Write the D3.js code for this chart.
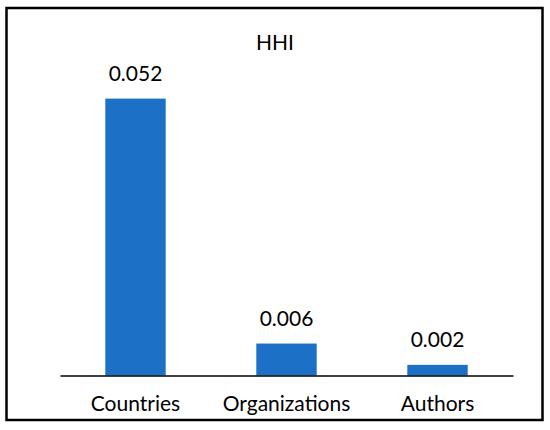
<!DOCTYPE html>
<html>
<head>
<meta charset="utf-8">
<script src="https://cdn.jsdelivr.net/npm/d3@7"></script>
<style>
  body { margin: 0; background: #fff; }
  svg text { font-family: Lato, "Open Sans", sans-serif; fill: #000; }
</style>
</head>
<body>
<script>
// Chart data
var categories = ["Countries", "Organizations", "Authors"];
var values = [0.052, 0.006, 0.002];
var valueLabels = ["0.052", "0.006", "0.002"];
var chartTitle = "HHI";

var width = 550, height = 430;
var margin = {top: 56, left: 60, right: 37, bottom: 54.5};

var svg = d3.select("body").append("svg")
    .attr("width", width)
    .attr("height", height);

// outer frame
svg.append("rect")
    .attr("x", 6.5).attr("y", 8)
    .attr("width", 536).attr("height", 412)
    .attr("fill", "#fff")
    .attr("stroke", "#000")
    .attr("stroke-width", 2.5);

var xScale = d3.scaleBand()
    .domain(categories)
    .range([margin.left, width - margin.right])
    .paddingInner(0.6)
    .paddingOuter(0.3);

var yScale = d3.scaleLinear()
    .domain([0, 0.06])
    .range([height - margin.bottom, margin.top]);

// bars
svg.selectAll("rect.bar")
    .data(values)
    .enter()
    .append("rect")
    .attr("class", "bar")
    .attr("x", function(d, i) { return xScale(categories[i]); })
    .attr("y", function(d) { return yScale(d); })
    .attr("width", xScale.bandwidth())
    .attr("height", function(d) { return yScale(0) - yScale(d); })
    .attr("fill", "#1c71c7");

// value labels
svg.selectAll("text.val")
    .data(values)
    .enter()
    .append("text")
    .attr("class", "val")
    .attr("x", function(d, i) { return xScale(categories[i]) + xScale.bandwidth() / 2; })
    .attr("y", function(d) { return yScale(d) - 17.5; })
    .attr("text-anchor", "middle")
    .style("font-size", "21px")
    .text(function(d, i) { return valueLabels[i]; });

// x axis
var xAxis = d3.axisBottom(xScale).tickSize(0).tickPadding(21);
var gx = svg.append("g")
    .attr("transform", "translate(0," + yScale(0) + ")")
    .call(xAxis);
gx.select(".domain").attr("stroke", "#000").attr("stroke-width", 1.5);
gx.selectAll(".tick text")
    .style("font-size", "21px")
    .style("font-family", "Lato, 'Open Sans', sans-serif")
    .attr("fill", "#000");

// title
svg.append("text")
    .attr("x", 275)
    .attr("y", 50)
    .attr("text-anchor", "middle")
    .style("font-size", "21px")
    .text(chartTitle);
</script>
</body>
</html>
